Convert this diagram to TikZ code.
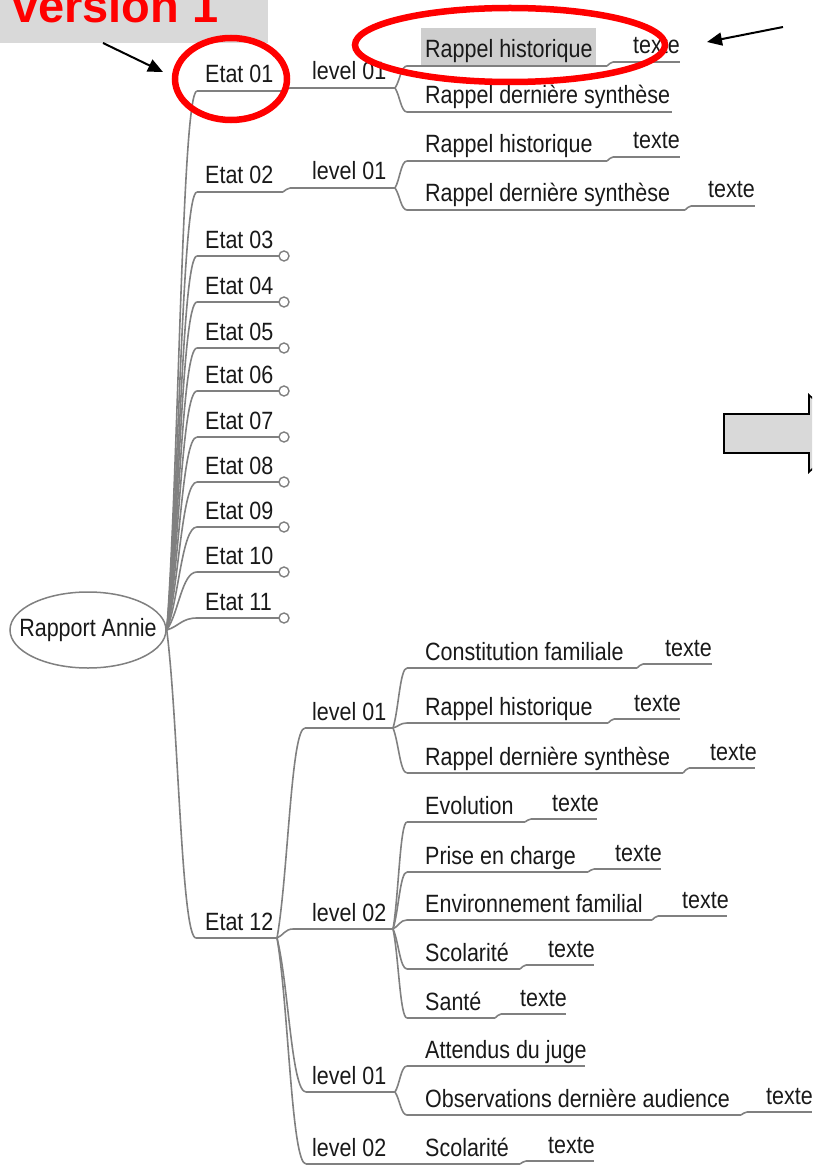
\documentclass[tikz,border=0pt]{standalone}
\usepackage{fontspec}
\setmainfont{Liberation Sans}
\newfontfamily\mapfont[FakeStretch=0.86]{Liberation Sans}
\usetikzlibrary{calc,arrows.meta,shapes.geometric}

\definecolor{linegray}{RGB}{128,128,128}
\definecolor{taggray}{RGB}{217,217,217}
\definecolor{hilite}{RGB}{206,206,206}
\definecolor{ink}{RGB}{25,25,25}

\tikzset{
  uline/.style={draw=linegray, line width=1.9pt},
  branch/.style={draw=linegray, line width=1.6pt,
    to path={let \p1=(\tikztostart), \p2=(\tikztotarget) in
      .. controls ({\x1+0.4*(\x2-\x1)},{\y1+0.3*(\y2-\y1)})
         and ({\x1+0.5*(\x2-\x1)},{\y2}) .. (\tikztotarget)}},
  lbl/.style={anchor=base west, inner sep=0pt, text=ink,
    font=\mapfont\fontsize{25pt}{30pt}\selectfont},
  rootnode/.style={ellipse, draw=linegray, line width=1.5pt, fill=white,
    minimum width=156pt, minimum height=76pt, inner sep=0pt, text=ink,
    font=\mapfont\fontsize{25pt}{30pt}\selectfont},
  endcirc/.style={circle, draw=linegray, line width=1.4pt, fill=white,
    minimum size=10pt, inner sep=0pt},
  redring/.style={ellipse, draw=red, line width=6.5pt, inner sep=0pt},
  pointer/.style={draw=black, line width=2pt, -{Triangle[length=15pt,width=13pt]}},
  blockarrow/.style={draw=black, line width=1.6pt, fill=taggray, line join=miter}
}

% topic: name, underline start x, underline end x, underline y, text x, text
\newcommand\maptopic[6]{%
  \coordinate (#1-s) at (#2,#4);
  \coordinate (#1-e) at (#3,#4);
  \draw[uline] (#1-s) -- (#1-e);
  \node[lbl] (#1) at (#5,{#4-8}) {#6};
}

\begin{document}
\begin{tikzpicture}[x=1pt,y=-1pt]
\useasboundingbox (0,0) rectangle (812,1166);
\clip (0,0) rectangle (812,1166);

% version tag
\fill[taggray] (0,0) rectangle (268,43);
\node[anchor=base west, inner sep=0pt, text=red,
  font=\fontsize{47pt}{50pt}\selectfont\bfseries] (title) at (12,23) {version 1};

% highlighted topic background
\fill[hilite] (421,28) rectangle (596,65);

% central topic (zero-width text box keeps the ellipse at its set size)
\node[rootnode] (root) at (88,630) {\makebox[0pt][c]{Rapport Annie}};

% first level: states
\maptopic{e01}{197}{283}{91}{205}{Etat 01}
\maptopic{e02}{197}{283}{192}{205}{Etat 02}
\maptopic{e03}{197}{279}{256}{205}{Etat 03}
\maptopic{e04}{197}{279}{302}{205}{Etat 04}
\maptopic{e05}{197}{279}{348}{205}{Etat 05}
\maptopic{e06}{197}{279}{391}{205}{Etat 06}
\maptopic{e07}{197}{279}{437}{205}{Etat 07}
\maptopic{e08}{197}{279}{482}{205}{Etat 08}
\maptopic{e09}{197}{279}{527}{205}{Etat 09}
\maptopic{e10}{197}{279}{572}{205}{Etat 10}
\maptopic{e11}{197}{279}{618}{205}{Etat 11}
\maptopic{e12}{196}{277}{938}{205}{Etat 12}

% collapsed states
\foreach \e/\y in {e03/256,e04/302,e05/348,e06/391,e07/437,e08/482,e09/527,e10/572,e11/618}
  \node[endcirc] (\e-c) at (284,\y) {};

\foreach \e in {e01,e02,e03,e04,e05,e06,e07,e08,e09,e10,e11,e12}
  \draw[branch] (root.east) to (\e-s);

% second level
\maptopic{la}{290}{395}{88}{312}{level 01}
\maptopic{lb}{290}{395}{188}{312}{level 01}
\maptopic{lc}{305}{393}{728}{312}{level 01}
\maptopic{ld}{293}{393}{929}{312}{level 02}
\maptopic{le}{306}{395}{1092}{312}{level 01}
\maptopic{lf}{306}{395}{1164}{312}{level 02}

\draw[branch] (e01-e) to (la-s);
\draw[branch] (e02-e) to (lb-s);
\foreach \l in {lc,ld,le,lf}
  \draw[branch] (e12-e) to (\l-s);

% third level
\maptopic{c1}{407}{607}{66}{425}{Rappel historique}
\maptopic{c2}{407}{672}{112}{425}{Rappel dernière synthèse}
\maptopic{c3}{407}{607}{161}{425}{Rappel historique}
\maptopic{c4}{407}{685}{210}{425}{Rappel dernière synthèse}
\maptopic{c5}{407}{637}{668}{425}{Constitution familiale}
\maptopic{c6}{407}{608}{723}{425}{Rappel historique}
\maptopic{c7}{407}{683}{773}{425}{Rappel dernière synthèse}
\maptopic{c8}{407}{525}{822}{425}{Evolution}
\maptopic{c9}{407}{588}{872}{425}{Prise en charge}
\maptopic{c10}{407}{652}{920}{425}{Environnement familial}
\maptopic{c11}{407}{520}{969}{425}{Scolarité}
\maptopic{c12}{407}{495}{1018}{425}{Santé}
\maptopic{c13}{407}{585}{1066}{425}{Attendus du juge}
\maptopic{c14}{407}{741}{1115}{425}{Observations dernière audience}
\maptopic{c15}{407}{520}{1164}{425}{Scolarité}

\foreach \c in {c1,c2} \draw[branch] (la-e) to (\c-s);
\foreach \c in {c3,c4} \draw[branch] (lb-e) to (\c-s);
\foreach \c in {c5,c6,c7} \draw[branch] (lc-e) to (\c-s);
\foreach \c in {c8,c9,c10,c11,c12} \draw[branch] (ld-e) to (\c-s);
\foreach \c in {c13,c14} \draw[branch] (le-e) to (\c-s);
\draw[branch] (lf-e) to (c15-s);

% fourth level: text leaves
\maptopic{t1}{613}{680}{62}{633}{texte}
\maptopic{t3}{613}{680}{157}{633}{texte}
\maptopic{t4}{691}{755}{206}{708}{texte}
\maptopic{t5}{643}{712}{664}{665}{texte}
\maptopic{t6}{614}{680}{719}{634}{texte}
\maptopic{t7}{689}{755}{768}{710}{texte}
\maptopic{t8}{531}{597}{819}{552}{texte}
\maptopic{t9}{594}{661}{869}{615}{texte}
\maptopic{t10}{658}{727}{916}{682}{texte}
\maptopic{t11}{526}{594}{965}{548}{texte}
\maptopic{t12}{501}{566}{1014}{520}{texte}
\maptopic{t14}{747}{812}{1112}{766}{texte}
\maptopic{t15}{526}{594}{1161}{548}{texte}

\foreach \k in {1,3,4,5,6,7,8,9,10,11,12,14,15}
  \draw[branch] (c\k-e) to (t\k-s);

% block arrow on the right
\draw[blockarrow] (724,414) -- (809,414) -- (809,395) -- (850,433.5)
  -- (809,472) -- (809,453) -- (724,453) -- cycle;

% annotations
\node[redring, minimum width=112pt, minimum height=82pt] (ring1) at (231,79) {};
\node[redring, minimum width=310pt, minimum height=74pt] (ring2) at (510,45) {};
\coordinate (a1tail) at (103,43);
\coordinate (a1tip) at (163,72);
\coordinate (a2tail) at (783,27);
\coordinate (a2tip) at (707,42);
\draw[pointer] (a1tail) -- (a1tip);
\draw[pointer] (a2tail) -- (a2tip);
\end{tikzpicture}
\end{document}
